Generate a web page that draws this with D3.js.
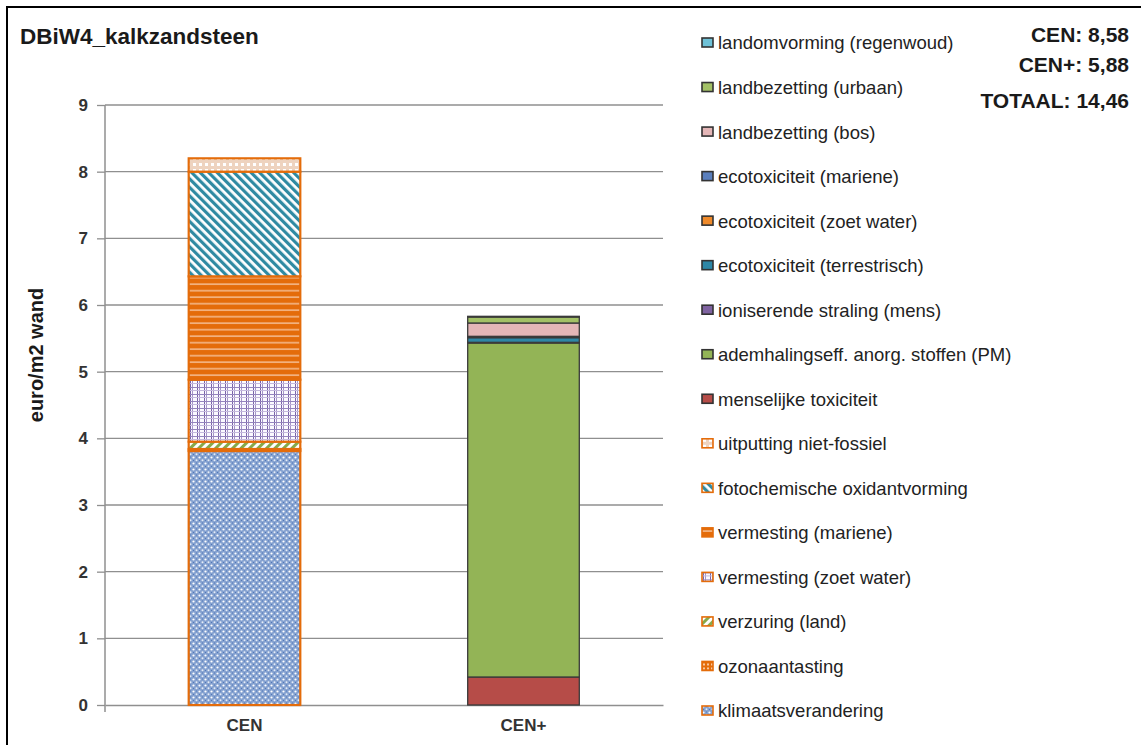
<!DOCTYPE html>
<html>
<head>
<meta charset="utf-8">
<script src="https://cdn.jsdelivr.net/npm/d3@7"></script>
<style>
	body { margin: 0; background: #fff; }
	text { font-family: "Liberation Sans", Arial, sans-serif; }
</style>
</head>
<body>
<script>
//DATA
var categories = ["CEN", "CEN+"];

//series in stacking order, bottom to top
var seriesNames = [
	"klimaatsverandering",
	"ozonaantasting",
	"verzuring (land)",
	"vermesting (zoet water)",
	"vermesting (mariene)",
	"fotochemische oxidantvorming",
	"uitputting niet-fossiel",
	"menselijke toxiciteit",
	"ademhalingseff. anorg. stoffen (PM)",
	"ioniserende straling (mens)",
	"ecotoxiciteit (terrestrisch)",
	"ecotoxiciteit (zoet water)",
	"ecotoxiciteit (mariene)",
	"landbezetting (bos)",
	"landbezetting (urbaan)",
	"landomvorming (regenwoud)"
];

var cenValues     = [3.81, 0.03, 0.11, 0.93, 1.55, 1.57, 0.20, 0, 0, 0, 0, 0, 0, 0, 0, 0];
var cenPlusValues = [0, 0, 0, 0, 0, 0, 0, 0.42, 5.01, 0.01, 0.07, 0.01, 0.01, 0.20, 0.09, 0.01];

var yTicks = [0, 1, 2, 3, 4, 5, 6, 7, 8, 9];

var totals = ["CEN: 8,58", "CEN+: 5,88", "TOTAAL: 14,46"];

//fill per series (patterns for the CEN part, plain colours for CEN+)
var seriesFills = [
	"url(#p-klimaat)", "url(#p-ozon)", "url(#p-verzuring)", "url(#p-vzoet)",
	"url(#p-vmar)", "url(#p-foto)", "url(#p-uitput)",
	"#b64c48", "#93b456", "#7f63a1", "#2e87a6", "#ef8a2a", "#5a7fbd",
	"#e4b6b7", "#a3c166", "#6fc2d8"
];

window.onload = setChart();

function setChart(){

	var w = 1141;
	var h = 745;

	var svg = d3.select("body")
		.append("svg")
		.attr("width", w)
		.attr("height", h);

	//PATTERNS
	var defs = svg.append("defs");

	//klimaatsverandering - blue speckle
	var pk = defs.append("pattern").attr("id", "p-klimaat")
		.attr("patternUnits", "userSpaceOnUse").attr("width", 6).attr("height", 6);
	pk.append("rect").attr("width", 6).attr("height", 6).attr("fill", "#84a1d0");
	pk.append("circle").attr("cx", 1.5).attr("cy", 1.5).attr("r", 1.1).attr("fill", "#fff");
	pk.append("circle").attr("cx", 4.5).attr("cy", 4.2).attr("r", 1).attr("fill", "#e6edf7");
	pk.append("rect").attr("x", 4).attr("y", 0.5).attr("width", 1).attr("height", 1).attr("fill", "#5277b6");
	pk.append("rect").attr("x", 1).attr("y", 4).attr("width", 1).attr("height", 1).attr("fill", "#5277b6");

	//ozonaantasting - orange dots
	var po = defs.append("pattern").attr("id", "p-ozon")
		.attr("patternUnits", "userSpaceOnUse").attr("width", 4).attr("height", 4);
	po.append("rect").attr("width", 4).attr("height", 4).attr("fill", "#e46c0a");
	po.append("rect").attr("x", 1).attr("y", 1).attr("width", 2).attr("height", 2).attr("fill", "#f7c8a0");

	//verzuring - green diagonal
	var pv = defs.append("pattern").attr("id", "p-verzuring")
		.attr("patternUnits", "userSpaceOnUse").attr("width", 6).attr("height", 6)
		.attr("patternTransform", "rotate(45)");
	pv.append("rect").attr("width", 6).attr("height", 6).attr("fill", "#fff");
	pv.append("rect").attr("width", 3).attr("height", 6).attr("fill", "#86a94a");

	//vermesting zoet water - purple plaid
	var pz = defs.append("pattern").attr("id", "p-vzoet")
		.attr("patternUnits", "userSpaceOnUse").attr("width", 7).attr("height", 7);
	pz.append("rect").attr("width", 7).attr("height", 7).attr("fill", "#fbfaff");
	pz.append("rect").attr("x", 1).attr("width", 1).attr("height", 7).attr("fill", "#7a64a8");
	pz.append("rect").attr("x", 3).attr("width", 1).attr("height", 7).attr("fill", "#a595c8");
	pz.append("rect").attr("y", 2).attr("width", 7).attr("height", 1).attr("fill", "#9484bd");
	pz.append("rect").attr("y", 5).attr("width", 7).attr("height", 1).attr("fill", "#c4b9dd");

	//vermesting mariene - orange with light horizontal lines
	var pm = defs.append("pattern").attr("id", "p-vmar")
		.attr("patternUnits", "userSpaceOnUse").attr("width", 6).attr("height", 6.5);
	pm.append("rect").attr("width", 6).attr("height", 6.5).attr("fill", "#e46c0a");
	pm.append("rect").attr("y", 4).attr("width", 6).attr("height", 1.4).attr("fill", "#f6c29a");

	//fotochemische oxidantvorming - teal diagonal
	var pf = defs.append("pattern").attr("id", "p-foto")
		.attr("patternUnits", "userSpaceOnUse").attr("width", 6).attr("height", 6)
		.attr("patternTransform", "rotate(-45)");
	pf.append("rect").attr("width", 6).attr("height", 6).attr("fill", "#fff");
	pf.append("rect").attr("width", 3.2).attr("height", 6).attr("fill", "#2f8aa2");

	//uitputting niet-fossiel - light peach texture
	var pu = defs.append("pattern").attr("id", "p-uitput")
		.attr("patternUnits", "userSpaceOnUse").attr("width", 6).attr("height", 6);
	pu.append("rect").attr("width", 6).attr("height", 6).attr("fill", "#eed3bf");
	pu.append("rect").attr("x", 1).attr("y", 1).attr("width", 3).attr("height", 3).attr("fill", "#fff");

	//FRAME (top and left edge of the pasted chart)
	svg.append("path")
		.attr("d", "M7,745 V7 H1141")
		.attr("fill", "none")
		.attr("stroke", "#000")
		.attr("stroke-width", 2);

	//SCALES
	var x = d3.scaleBand()
		.domain(categories)
		.range([105, 663])
		.paddingInner(0.6)
		.paddingOuter(0.3);

	var y = d3.scaleLinear()
		.domain([0, 9])
		.range([705, 105]);

	//gridlines
	svg.append("g")
		.selectAll("line")
		.data(yTicks.slice(1))
		.enter()
		.append("line")
		.attr("x1", 105)
		.attr("x2", 663)
		.attr("y1", function(d){ return y(d); })
		.attr("y2", function(d){ return y(d); })
		.attr("stroke", "#8f8f8f")
		.attr("stroke-width", 1.3);

	//y axis
	var yAxis = svg.append("g")
		.attr("transform", "translate(105,0)")
		.call(d3.axisLeft(y).tickValues(yTicks).tickSize(8).tickPadding(9));
	yAxis.select(".domain").attr("stroke", "#8f8f8f").attr("stroke-width", 1.5)
		.attr("d", "M0,105 V712");
	yAxis.selectAll(".tick line").attr("stroke", "#8f8f8f").attr("stroke-width", 1.3);
	yAxis.selectAll(".tick text")
		.attr("fill", "#333")
		.style("font-size", "17px")
		.style("font-weight", "bold");

	//x axis
	var xAxis = svg.append("g")
		.attr("transform", "translate(0,705)")
		.call(d3.axisBottom(x).tickSize(0).tickPadding(14));
	xAxis.select(".domain").attr("stroke", "#8f8f8f").attr("stroke-width", 1.5);
	xAxis.selectAll(".tick text")
		.attr("fill", "#333")
		.style("font-size", "17px")
		.style("font-weight", "bold");

	//STACKED BARS
	var rows = categories.map(function(c, i){
		var row = { cat: c };
		seriesNames.forEach(function(s, j){
			row[s] = i === 0 ? cenValues[j] : cenPlusValues[j];
		});
		return row;
	});

	var stacked = d3.stack().keys(seriesNames)(rows);

	var layers = svg.append("g")
		.selectAll("g")
		.data(stacked)
		.enter()
		.append("g")
		.attr("fill", function(d, i){ return seriesFills[i]; });

	layers.selectAll("rect")
		.data(function(d){
			return d.map(function(p){ return { p: p, idx: d.index }; })
				.filter(function(e){ return e.p[1] - e.p[0] > 0; });
		})
		.enter()
		.append("rect")
		.attr("x", function(e){ return x(e.p.data.cat); })
		.attr("width", x.bandwidth())
		.attr("y", function(e){ return y(e.p[1]); })
		.attr("height", function(e){ return y(e.p[0]) - y(e.p[1]); })
		.attr("stroke", function(e){ return e.idx < 7 ? "#e46c0a" : "#3a3a3a"; })
		.attr("stroke-width", function(e){ return e.idx < 7 ? 2.2 : 1.3; });

	//TITLE
	svg.append("text")
		.attr("x", 20)
		.attr("y", 44)
		.attr("fill", "#1a1a1a")
		.style("font-size", "22.5px")
		.style("font-weight", "bold")
		.text("DBiW4_kalkzandsteen");

	//y axis title
	svg.append("text")
		.attr("transform", "translate(43,355) rotate(-90)")
		.attr("text-anchor", "middle")
		.attr("fill", "#1a1a1a")
		.style("font-size", "20px")
		.style("font-weight", "bold")
		.text("euro/m2 wand");

	//LEGEND (last series on top)
	var legendItems = seriesNames.map(function(s, i){ return i; }).reverse();

	var ly = d3.scalePoint()
		.domain(legendItems)
		.range([43, 711]);

	var legend = svg.append("g")
		.selectAll("g")
		.data(legendItems)
		.enter()
		.append("g")
		.attr("transform", function(d){ return "translate(702," + ly(d) + ")"; });

	legend.append("rect")
		.attr("x", 0)
		.attr("y", -5)
		.attr("width", 11)
		.attr("height", 9)
		.attr("fill", function(d){ return seriesFills[d]; })
		.attr("stroke", function(d){ return d < 7 ? "#e46c0a" : "#333"; })
		.attr("stroke-width", 1.6);

	legend.append("text")
		.attr("x", 16)
		.attr("y", 0)
		.attr("dy", "0.35em")
		.attr("fill", "#222")
		.style("font-size", "18.5px")
		.text(function(d){ return seriesNames[d]; });

	//TOTALS (top right)
	svg.append("g")
		.selectAll("text")
		.data(totals)
		.enter()
		.append("text")
		.attr("x", 1129)
		.attr("y", function(d, i){ return [42, 72, 108][i]; })
		.attr("text-anchor", "end")
		.attr("fill", "#1a1a1a")
		.style("font-size", "21px")
		.style("font-weight", "bold")
		.text(function(d){ return d; });
};
</script>
</body>
</html>
